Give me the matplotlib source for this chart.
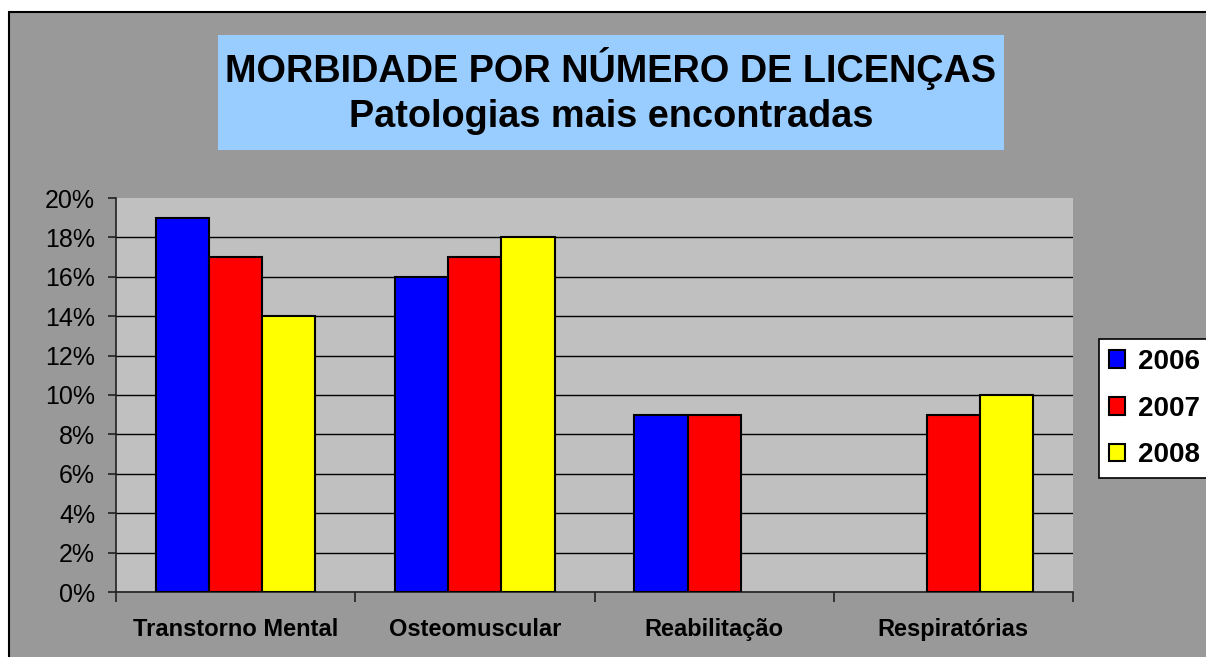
import matplotlib.pyplot as plt
from matplotlib.patches import Rectangle
import numpy as np

plt.rcParams['font.family'] = ['Liberation Sans', 'DejaVu Sans']

# dados (None = sem barra)
categorias = ['Transtorno Mental', 'Osteomuscular', 'Reabilitação', 'Respiratórias']
anos = ['2006', '2007', '2008']
v2006 = [19, 16, 9, None]
v2007 = [17, 17, 9, 9]
v2008 = [14, 18, None, 10]
cores = ['#0000ff', '#ff0000', '#ffff00']

W, H = 1206, 657
fig = plt.figure(figsize=(W / 100, H / 100), dpi=100, facecolor='white')

# fundo cinza com borda preta (recortado à direita/embaixo)
fig.patches.append(Rectangle((9 / W, -0.1), 1.2, 1 - 12 / H + 0.1, transform=fig.transFigure,
                             facecolor='#999999', edgecolor='black', linewidth=1.5, zorder=-5))

ax = fig.add_axes([116 / W, 1 - 592 / H, (1073 - 116) / W, (592 - 198) / H])
ax.set_zorder(2)
ax.set_facecolor('#c0c0c0')

largura = 1 / 4.5
x = np.arange(len(categorias))
for i, (serie, cor) in enumerate(zip([v2006, v2007, v2008], cores)):
    xs = [x[j] + (i - 1) * largura for j, v in enumerate(serie) if v is not None]
    hs = [v / 100 for v in serie if v is not None]
    ax.bar(xs, hs, width=largura, color=cor, edgecolor='black', linewidth=1.5, zorder=3)

ax.set_xlim(-0.5, len(categorias) - 0.5)
ax.set_ylim(0, 0.20)
ax.set_yticks(np.arange(0, 0.201, 0.02))
ax.set_yticklabels([f'{int(round(t * 100))}%' for t in np.arange(0, 0.201, 0.02)], fontsize=18)
ax.yaxis.grid(True, color='black', linewidth=1, zorder=1)
ax.set_axisbelow(True)
ax.yaxis.get_gridlines()[-1].set_visible(False)

ax.set_xticks(np.arange(-0.5, len(categorias)), labels=[''] * (len(categorias) + 1))
ax.set_xticks(x, labels=categorias, minor=True)
ax.tick_params(axis='x', which='major', length=7, width=1.2, color='#222222')
ax.tick_params(axis='x', which='minor', length=0, pad=19, labelsize=17)
for lbl in ax.get_xticklabels(minor=True):
    lbl.set_fontweight('bold')
ax.tick_params(axis='y', length=6, width=1.2, color='#222222', pad=9)

for s in ['top', 'right']:
    ax.spines[s].set_visible(False)
for s in ['left', 'bottom']:
    ax.spines[s].set_color('#222222')
    ax.spines[s].set_linewidth(1.2)

# caixa do título
fig.patches.append(Rectangle((218 / W, 1 - 150 / H), (1004 - 218) / W, (150 - 35) / H,
                             transform=fig.transFigure, facecolor='#99ccff', edgecolor='none', zorder=1))
fig.text(611 / W, 1 - 68 / H, 'MORBIDADE POR NÚMERO DE LICENÇAS', ha='center', va='center',
         fontsize=27.3, fontweight='bold', zorder=2)
fig.text(611 / W, 1 - 117 / H, 'Patologias mais encontradas', ha='center', va='center',
         fontsize=27.3, fontweight='bold', zorder=2)

# legenda
handles = [Rectangle((0, 0), 1, 1, facecolor=c, edgecolor='black', linewidth=1.5) for c in cores]
leg = fig.legend(handles, anos, loc='upper left', bbox_to_anchor=(1099 / W, 1 - 339 / H),
                 bbox_transform=fig.transFigure, fontsize=20, frameon=True, fancybox=False,
                 framealpha=1, handlelength=0.6, handleheight=0.6, handletextpad=0.45,
                 labelspacing=0.75, borderpad=0.35, borderaxespad=0)
leg.set_zorder(5)
leg.get_frame().set_edgecolor('black')
leg.get_frame().set_linewidth(1.2)
leg.get_frame().set_facecolor('white')
for t in leg.get_texts():
    t.set_fontweight('bold')

fig.savefig('out.png', dpi=100, facecolor=fig.get_facecolor())
